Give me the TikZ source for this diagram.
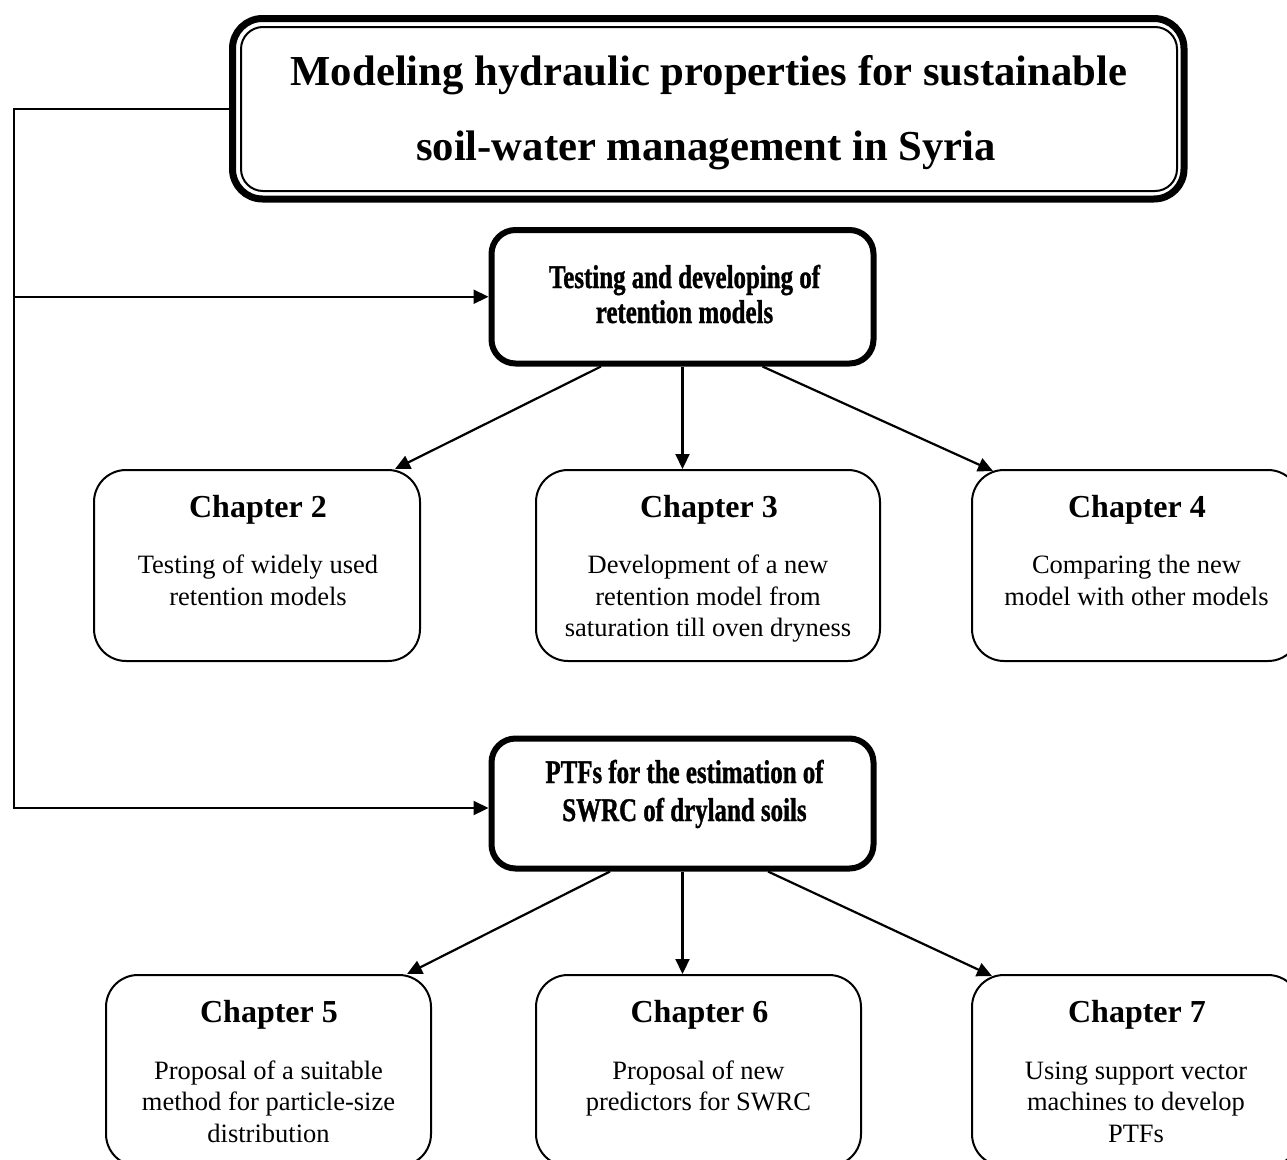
\documentclass[tikz,border=0pt]{standalone}
\usepackage{fontspec}
\setmainfont{Liberation Serif}
\newfontfamily\condfont{Liberation Serif Bold}[FakeStretch=0.755,FakeBold=1]
\usetikzlibrary{arrows.meta,calc}
\begin{document}
\begin{tikzpicture}[x=1pt,y=-1pt,
  titlebox/.style={draw, line width=7pt, rounded corners=30pt, outer sep=0pt, minimum width=951.5pt, minimum height=180.5pt, inner sep=0pt},
  titleinner/.style={line width=2pt, rounded corners=22pt},
  titletext/.style={font=\fontsize{42.7}{50}\selectfont\bfseries, anchor=base, inner sep=0pt},
  midbox/.style={draw, line width=6pt, rounded corners=24pt, minimum width=382pt, inner sep=0pt},
  midtext/.style={font=\condfont\fontsize{33}{38}\selectfont, anchor=base, inner sep=0pt},
  chapbox/.style={draw, line width=2pt, rounded corners=32pt, minimum height=191pt, inner sep=0pt},
  chaphead/.style={font=\fontsize{32}{38}\selectfont\bfseries, anchor=base, inner sep=0pt},
  chaptext/.style={font=\fontsize{26.5}{31.5}\selectfont, anchor=base, inner sep=0pt},
  conn/.style={line width=2.2pt, -{Triangle[length=15pt,width=14pt]}}
]
\useasboundingbox (0,0) rectangle (1287,1159);

% title
\node[titlebox] (title) at (708.25,108.75) {};
\draw[titleinner] ([xshift=8.5pt,yshift=-8.5pt]title.north west) rectangle ([xshift=-7pt,yshift=8pt]title.south east);
\node[titletext] (t1) at (709,85) {Modeling hydraulic properties for sustainable};
\node[titletext] (t2) at (706,160) {soil-water management in Syria};

% middle boxes
\node[midbox, minimum height=133.5pt] (box1) at (682.5,296.75) {};
\node[midtext] (b1a) at (684.5,288) {Testing and developing of};
\node[midtext] (b1b) at (684.5,323) {retention models};

\node[midbox, minimum height=130pt] (box2) at (682.5,803.5) {};
\node[midtext] (b2a) at (684.5,783) {PTFs for the estimation of};
\node[midtext] (b2b) at (684.5,821) {SWRC of dryland soils};

% chapter boxes row 1
\node[chapbox, minimum width=326pt] (ch2) at (257,565.5) {};
\node[chaphead] (ch2h) at (258,517) {Chapter 2};
\node[chaptext] (ch2a) at (258,573.5) {Testing of widely used};
\node[chaptext] (ch2b) at (258,605) {retention models};

\node[chapbox, minimum width=344pt] (ch3) at (708,565.5) {};
\node[chaphead] (ch3h) at (709,517) {Chapter 3};
\node[chaptext] (ch3a) at (708,573.5) {Development of a new};
\node[chaptext] (ch3b) at (708,605) {retention model from};
\node[chaptext] (ch3c) at (708,636.5) {saturation till oven dryness};

\node[chapbox, minimum width=328pt] (ch4) at (1136,565.5) {};
\node[chaphead] (ch4h) at (1137,517) {Chapter 4};
\node[chaptext] (ch4a) at (1136.5,573.5) {Comparing the new};
\node[chaptext] (ch4b) at (1136.5,605) {model with other models};

% chapter boxes row 2
\node[chapbox, minimum width=325pt] (ch5) at (268.5,1070.5) {};
\node[chaphead] (ch5h) at (269,1022) {Chapter 5};
\node[chaptext] (ch5a) at (268.5,1079) {Proposal of a suitable};
\node[chaptext] (ch5b) at (268.5,1110.5) {method for particle-size};
\node[chaptext] (ch5c) at (268.5,1142) {distribution};

\node[chapbox, minimum width=325pt] (ch6) at (698.5,1070.5) {};
\node[chaphead] (ch6h) at (699.5,1022) {Chapter 6};
\node[chaptext] (ch6a) at (698.5,1079) {Proposal of new};
\node[chaptext] (ch6b) at (698.5,1110.5) {predictors for SWRC};

\node[chapbox, minimum width=328pt] (ch7) at (1136,1070.5) {};
\node[chaphead] (ch7h) at (1137,1022) {Chapter 7};
\node[chaptext] (ch7a) at (1136,1079) {Using support vector};
\node[chaptext] (ch7b) at (1136,1110.5) {machines to develop};
\node[chaptext] (ch7c) at (1136,1142) {PTFs};

% left connector
\coordinate (lt) at (14,108.75);
\coordinate (lb) at (14,808);
\draw[conn] (title.west) -- (lt) -- (lb) -- (lb -| box2.west);
\draw[conn] (lt |- box1.west) -- (box1.west);

% arrows row 1
\draw[conn] ([xshift=-81.5pt]box1.south) -- ([xshift=138pt]ch2.north);
\draw[conn] (box1.south) -- (box1.south |- ch3.north);
\draw[conn] ([xshift=80pt]box1.south) -- ([xshift=22pt,yshift=-2pt]ch4.north west);

% arrows row 2
\draw[conn] ([xshift=-72.5pt]box2.south) -- ([xshift=138.5pt]ch5.north);
\draw[conn] (box2.south) -- (box2.south |- ch6.north);
\draw[conn] ([xshift=85.5pt]box2.south) -- ([xshift=21pt,yshift=-2pt]ch7.north west);
\end{tikzpicture}
\end{document}
